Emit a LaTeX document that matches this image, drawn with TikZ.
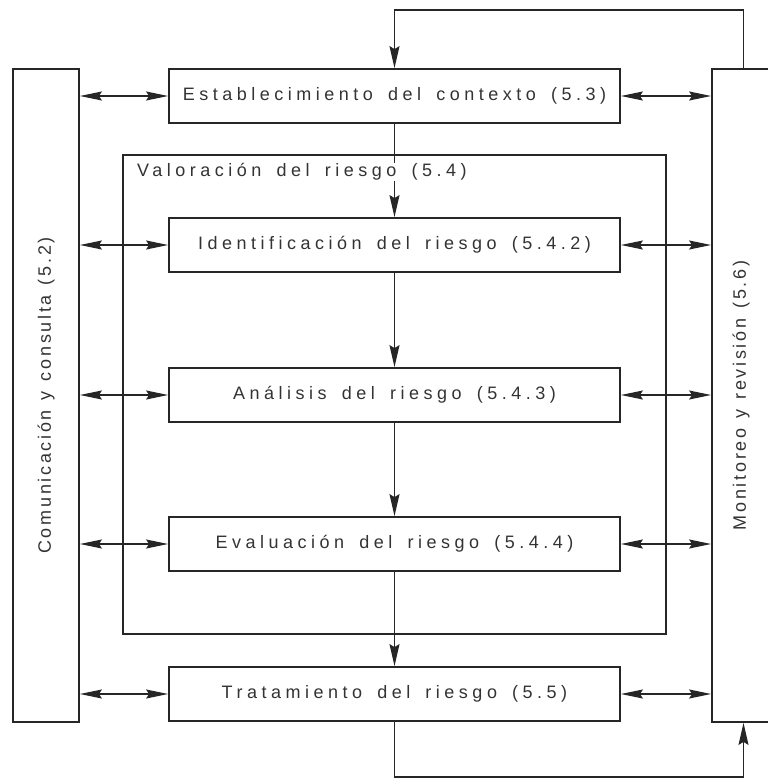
\documentclass[tikz,border=0pt]{standalone}
\usepackage{fontspec}
\setmainfont{Liberation Sans}
\newfontfamily\boxfont{Liberation Sans}[LetterSpace=25,WordSpace=1.6]
\newfontfamily\sidefont{Liberation Sans}[LetterSpace=15,WordSpace=1.3]
\usetikzlibrary{arrows.meta}
\begin{document}
\begin{tikzpicture}
  [x=1pt,y=-1pt,
   box/.style={draw=black!85, line width=1.8pt, minimum width=451pt, minimum height=54pt,
     inner sep=0pt, text=black!80, font=\boxfont\fontsize{18}{21}\selectfont},
   sidebox/.style={draw=black!85, line width=1.8pt, minimum height=653pt, inner sep=0pt},
   sidetext/.style={rotate=90, text=black!80, font=\sidefont\fontsize{18}{21}\selectfont},
   link/.style={line width=1.3pt, draw=black!85, >={Stealth[length=22pt,width=9pt,inset=3pt]}, <->},
   flow/.style={line width=1.3pt, draw=black!85, -{Stealth[length=22pt,width=10pt,inset=3pt]}}]
  \useasboundingbox (0,0) rectangle (768,779);

  % side boxes
  \node[sidebox, minimum width=66pt] (com) at (46,395.5) {};
  \node[sidetext] (comtext) at (com) {Comunicación y consulta (5.2)};
  \node[sidebox, minimum width=63pt] (mon) at (743.5,395.5) {};
  \node[sidetext] (montext) at (741,395.5) {Monitoreo y revisión (5.6)};

  % risk assessment frame
  \node[draw=black!85, line width=1.8pt, minimum width=543pt, minimum height=479pt] (val) at (394.5,394.5) {};

  % process steps
  \node[box] (est) at (394.5,96) {Establecimiento del contexto (5.3)};
  \node[box] (ident) at (394.5,245) {Identificación del riesgo (5.4.2)};
  \node[box] (anal) at (394.5,395) {Análisis del riesgo (5.4.3)};
  \node[box] (eval) at (394.5,544) {Evaluación del riesgo (5.4.4)};
  \node[box] (trat) at (394.5,694) {Tratamiento del riesgo (5.5)};

  % main flow
  \draw[flow] (est.south) -- (ident.north);
  \draw[flow] (ident.south) -- (anal.north);
  \draw[flow] (anal.south) -- (eval.north);
  \draw[flow] (eval.south) -- (trat.north);

  \node[anchor=west, fill=white, inner sep=1pt, text=black!80,
    font=\boxfont\fontsize{18}{21}\selectfont] (vallabel) at (136,172) {Valoración del riesgo (5.4)};

  % feedback loop
  \coordinate (fbtop) at (est.north |- 0,10);
  \coordinate (fbbot) at (trat.south |- 0,777);
  \draw[flow] (mon.north) |- (fbtop) -- (est.north);
  \draw[flow] (trat.south) -- (fbbot) -| (mon.south);

  % communication and monitoring links
  \foreach \step in {est,ident,anal,eval,trat} {
    \draw[link] (com.east |- \step.west) -- (\step.west);
    \draw[link] (\step.east) -- (mon.west |- \step.east);
  }
\end{tikzpicture}
\end{document}
